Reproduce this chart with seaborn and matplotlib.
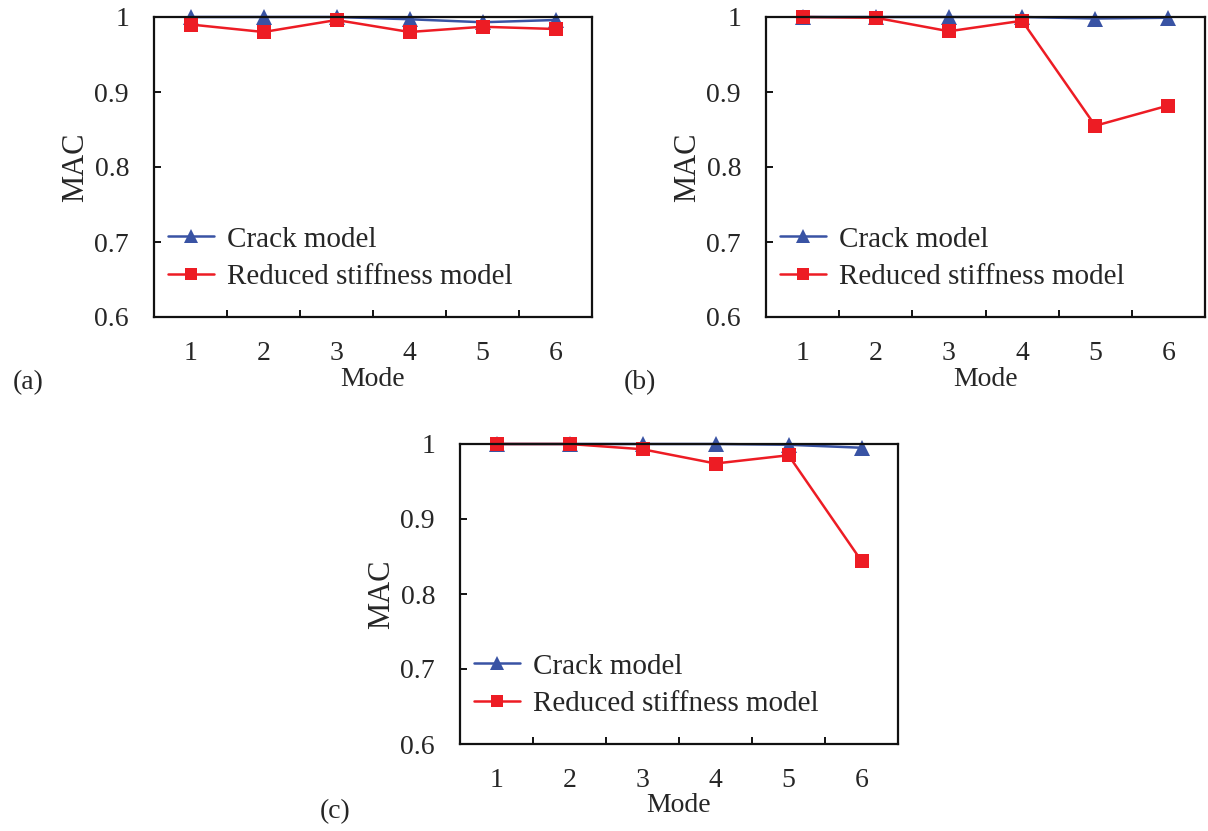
import numpy as np
import pandas as pd
import matplotlib
matplotlib.use("Agg")
import matplotlib.pyplot as plt
import seaborn as sns

# ---- data ----
modes = [1, 2, 3, 4, 5, 6]
series_names = ["Crack model", "Reduced stiffness model"]
crack_a = [1.000, 1.000, 1.000, 0.997, 0.993, 0.996]
reduced_a = [0.990, 0.980, 0.996, 0.980, 0.987, 0.984]
crack_b = [1.000, 1.000, 1.000, 1.000, 0.998, 0.999]
reduced_b = [1.000, 0.999, 0.981, 0.995, 0.855, 0.882]
crack_c = [1.000, 1.000, 1.000, 1.000, 0.999, 0.995]
reduced_c = [1.000, 1.000, 0.993, 0.974, 0.985, 0.844]
panel_labels = ["(a)", "(b)", "(c)"]
y_ticks = [0.6, 0.7, 0.8, 0.9, 1.0]
y_tick_labels = ["0.6", "0.7", "0.8", "0.9", "1"]

blue = "#3953A4"
red = "#ED1C24"

sns.set_style("ticks")
plt.rcParams["font.family"] = ["Liberation Serif", "DejaVu Serif"]
plt.rcParams["mathtext.fontset"] = "stix"

W, H = 1208, 831
fig = plt.figure(figsize=(W / 100, H / 100), dpi=100)

# axes rectangles in pixels (left, top, right, bottom)
rects = [(154, 17, 592, 317), (766, 17, 1205, 317), (460, 444, 898, 744)]
label_pos = [(28, 383), (640, 383), (335, 812)]
datasets = [(crack_a, reduced_a), (crack_b, reduced_b), (crack_c, reduced_c)]

for (l, t, r, b), (cr, rd), pl, (lx, ly) in zip(rects, datasets, panel_labels, label_pos):
    ax = fig.add_axes([l / W, 1 - b / H, (r - l) / W, (b - t) / H])
    df = pd.DataFrame({
        "Mode": modes * 2,
        "MAC": list(cr) + list(rd),
        "Model": [series_names[0]] * len(modes) + [series_names[1]] * len(modes),
    })
    sns.lineplot(
        data=df, x="Mode", y="MAC", hue="Model", style="Model",
        hue_order=series_names, style_order=series_names,
        palette={series_names[0]: blue, series_names[1]: red},
        markers={series_names[0]: "^", series_names[1]: "s"},
        dashes=False, linewidth=1.8, markersize=10, markeredgewidth=0,
        clip_on=False, ax=ax,
    )
    # slightly larger triangles than squares, as in the reference
    for ln in ax.lines:
        if ln.get_marker() == "^":
            ln.set_markersize(12)
        elif ln.get_marker() == "s":
            ln.set_markersize(10)
    ax.set_xlim(0.5, 6.5)
    ax.set_ylim(0.6, 1.0)
    ax.set_xticks(modes)
    ax.set_xticklabels([str(m) for m in modes])
    ax.set_xticks([1.5, 2.5, 3.5, 4.5, 5.5], minor=True)
    ax.set_yticks(y_ticks)
    ax.set_yticklabels(y_tick_labels)
    ax.tick_params(axis="x", which="major", length=0, pad=17, labelsize=20)
    ax.tick_params(axis="x", which="minor", direction="in", length=5, width=1.3, color="black")
    ax.tick_params(axis="y", which="major", direction="in", length=5, width=1.3,
                   pad=18, labelsize=20, color="black")
    for s in ax.spines.values():
        s.set_visible(True)
        s.set_linewidth(1.6)
        s.set_color("#111111")
    ax.set_xlabel("Mode", fontsize=20)
    ax.xaxis.set_label_coords(0.5, -0.165)
    ax.set_ylabel("MAC", fontsize=22)
    ax.yaxis.set_label_coords(-0.145, 0.5)
    leg = ax.legend(
        loc="upper left", bbox_to_anchor=(0.033, 0.303), frameon=False,
        fontsize=21, borderpad=0, borderaxespad=0, handlelength=1.55,
        handletextpad=0.45, labelspacing=0.37, markerscale=0.8,
    )
    fig.text(lx / W, 1 - ly / H, pl, fontsize=20, ha="center", va="center")

fig.savefig("out.png", dpi=100)
